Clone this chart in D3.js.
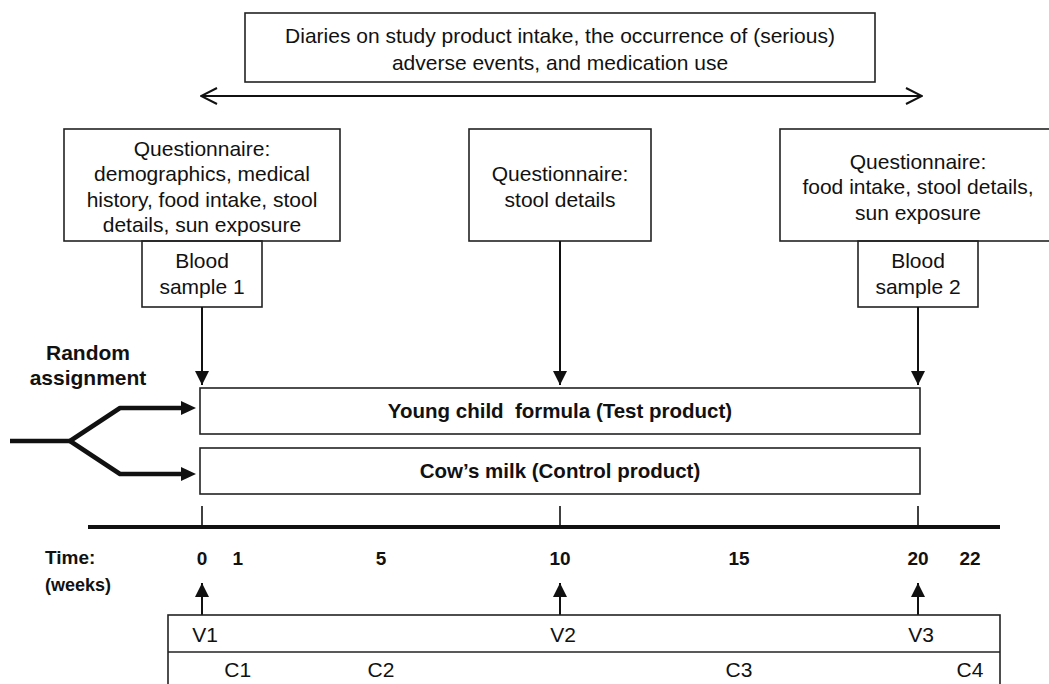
<!DOCTYPE html>
<html>
<head>
<meta charset="utf-8">
<script src="https://cdn.jsdelivr.net/npm/d3@7"></script>
<style>
  body { margin: 0; background: #fff; }
  svg { display: block; font-family: "Liberation Sans", Arial, sans-serif; }
  .box { fill: none; stroke: #222; stroke-width: 1.6; }
  .lbl { font-size: 21px; fill: #111; white-space: pre; }
  .bold { font-weight: bold; }
</style>
</head>
<body>
<svg width="1049" height="684"></svg>
<script>
// ---- data ----
const tickWeeks = [0, 1, 5, 10, 15, 20, 22];
const markedWeeks = [0, 10, 20];

const diaryText = ["Diaries on study product intake, the occurrence of (serious)",
                   "adverse events, and medication use"];
const diaryWeeks = [0, 20];

const questionnaireWeeks = [0, 10, 20];
const questionnaireText = [
    ["Questionnaire:", "demographics, medical", "history, food intake, stool", "details, sun exposure"],
    ["Questionnaire:", "stool details"],
    ["Questionnaire:", "food intake, stool details,", "sun exposure"]
];

const bloodWeeks = [0, 20];
const bloodText = [["Blood", "sample 1"], ["Blood", "sample 2"]];

const arms = ["Young child  formula (Test product)", "Cow\u2019s milk (Control product)"];

const visitWeeks = [0, 10, 20];
const visitLabels = ["V1", "V2", "V3"];

const contactWeeks = [1, 5, 15, 22];
const contactLabels = ["C1", "C2", "C3", "C4"];

// ---- layout ----
const svg = d3.select("svg");

const x = d3.scaleLinear()
    .domain([0, 20, 22])
    .range([202, 918, 970]);

const axisY = 527;
const qTop = 129, qBottom = 241;
const qHalf = [138, 91, 138];
const bloodHalf = 60, bloodBottom = 307;
const armTop = [388, 448], armH = 46;
const lineH = 25.5;

const defs = svg.append("defs");

defs.append("marker")
    .attr("id", "tri")
    .attr("markerUnits", "userSpaceOnUse")
    .attr("viewBox", "0 0 14 14")
    .attr("refX", 14).attr("refY", 7)
    .attr("markerWidth", 14).attr("markerHeight", 14)
    .attr("orient", "auto")
    .append("path")
    .attr("d", "M0,0 L14,7 L0,14 Z")
    .attr("fill", "#111");

defs.append("marker")
    .attr("id", "chev")
    .attr("markerUnits", "userSpaceOnUse")
    .attr("viewBox", "-1 -1 18 20")
    .attr("refX", 16).attr("refY", 9)
    .attr("markerWidth", 18).attr("markerHeight", 20)
    .attr("orient", "auto-start-reverse")
    .append("path")
    .attr("d", "M0,1 L16,9 L0,17")
    .attr("fill", "none")
    .attr("stroke", "#111")
    .attr("stroke-width", 2);

function multiline(g, lines, cx, cy, cls) {
    const n = lines.length;
    g.selectAll(null)
        .data(lines)
        .join("text")
        .attr("class", cls)
        .attr("x", cx)
        .attr("y", (d, i) => cy + (i - (n - 1) / 2) * lineH + 8)
        .attr("text-anchor", "middle")
        .text(d => d);
}

// diaries box + double arrow
const dCx = (x(diaryWeeks[0]) + x(diaryWeeks[1])) / 2;
svg.append("rect").attr("class", "box")
    .attr("x", dCx - 315).attr("y", 13)
    .attr("width", 630).attr("height", 69);
svg.append("text").attr("class", "lbl")
    .attr("x", dCx).attr("y", 43).attr("text-anchor", "middle").text(diaryText[0]);
svg.append("text").attr("class", "lbl")
    .attr("x", dCx).attr("y", 70).attr("text-anchor", "middle").text(diaryText[1]);
svg.append("line")
    .attr("x1", x(diaryWeeks[0]) - 1).attr("x2", x(diaryWeeks[1]) + 4)
    .attr("y1", 96).attr("y2", 96)
    .attr("stroke", "#111").attr("stroke-width", 2)
    .attr("marker-start", "url(#chev)")
    .attr("marker-end", "url(#chev)");

// questionnaire boxes
questionnaireWeeks.forEach(function(w, i) {
    const cx = x(w);
    svg.append("rect").attr("class", "box")
        .attr("x", cx - qHalf[i]).attr("y", qTop)
        .attr("width", qHalf[i] * 2).attr("height", qBottom - qTop);
    multiline(svg.append("g"), questionnaireText[i], cx, (qTop + qBottom) / 2 + 1, "lbl");
});

// blood sample boxes
bloodWeeks.forEach(function(w, i) {
    const cx = x(w);
    svg.append("rect").attr("class", "box")
        .attr("x", cx - bloodHalf).attr("y", qBottom)
        .attr("width", bloodHalf * 2).attr("height", bloodBottom - qBottom);
    multiline(svg.append("g"), bloodText[i], cx, (qBottom + bloodBottom) / 2 - 1, "lbl");
});

// down arrows
svg.selectAll(".down")
    .data(markedWeeks)
    .join("line")
    .attr("class", "down")
    .attr("x1", d => x(d)).attr("x2", d => x(d))
    .attr("y1", d => bloodWeeks.includes(d) ? bloodBottom : qBottom)
    .attr("y2", armTop[0] - 3)
    .attr("stroke", "#111").attr("stroke-width", 2)
    .attr("marker-end", "url(#tri)");

// product boxes
arms.forEach(function(a, i) {
    svg.append("rect").attr("class", "box")
        .attr("x", x(0) - 2).attr("y", armTop[i])
        .attr("width", x(20) - x(0) + 4).attr("height", armH);
    svg.append("text").attr("class", "lbl bold")
        .style("font-size", "20.5px")
        .attr("x", x(10)).attr("y", armTop[i] + armH / 2 + 7)
        .attr("text-anchor", "middle").text(a);
});

// random assignment
svg.append("text").attr("class", "lbl bold")
    .attr("x", 88).attr("y", 360).attr("text-anchor", "middle").text("Random");
svg.append("text").attr("class", "lbl bold")
    .attr("x", 88).attr("y", 385).attr("text-anchor", "middle").text("assignment");

const split = [70, 441];
svg.append("line")
    .attr("x1", 10).attr("x2", split[0]).attr("y1", split[1]).attr("y2", split[1])
    .attr("stroke", "#111").attr("stroke-width", 4.5);
armTop.forEach(function(t) {
    const yy = t + armH / 2 - 3 * (t === armTop[0] ? 1 : -1);
    svg.append("path")
        .attr("d", d3.line()([split, [120, yy], [x(0) - 20, yy]]))
        .attr("fill", "none").attr("stroke", "#111").attr("stroke-width", 4.5)
        .attr("stroke-linejoin", "round");
    svg.append("path")
        .attr("d", `M${x(0) - 21},${yy - 7} L${x(0) - 6},${yy} L${x(0) - 21},${yy + 7} Z`)
        .attr("fill", "#111");
});

// time axis
svg.append("line")
    .attr("x1", 88).attr("x2", 1000).attr("y1", axisY).attr("y2", axisY)
    .attr("stroke", "#111").attr("stroke-width", 4);
svg.selectAll(".tick")
    .data(markedWeeks)
    .join("line")
    .attr("class", "tick")
    .attr("x1", d => x(d)).attr("x2", d => x(d))
    .attr("y1", 506).attr("y2", axisY)
    .attr("stroke", "#111").attr("stroke-width", 1.6);

svg.selectAll(".wk")
    .data(tickWeeks)
    .join("text")
    .attr("class", "wk lbl bold")
    .style("font-size", "19px")
    .attr("x", d => x(d)).attr("y", 565)
    .attr("text-anchor", "middle")
    .text(d => d);

svg.append("text").attr("class", "lbl bold").style("font-size", "19px")
    .attr("x", 45).attr("y", 564).text("Time:");
svg.append("text").attr("class", "lbl bold").style("font-size", "18px")
    .attr("x", 45).attr("y", 591).text("(weeks)");

// up arrows
const vTop = 615, vMid = 652;
svg.selectAll(".up")
    .data(visitWeeks)
    .join("line")
    .attr("class", "up")
    .attr("x1", d => x(d)).attr("x2", d => x(d))
    .attr("y1", vTop).attr("y2", 583)
    .attr("stroke", "#111").attr("stroke-width", 2)
    .attr("marker-end", "url(#tri)");

// visit / contact table
svg.append("rect").attr("class", "box")
    .attr("x", 168).attr("y", vTop).attr("width", 1000 - 168).attr("height", 120);
svg.append("line").attr("class", "box")
    .attr("x1", 168).attr("x2", 1000).attr("y1", vMid).attr("y2", vMid);

svg.selectAll(".v")
    .data(visitWeeks)
    .join("text")
    .attr("class", "v lbl")
    .attr("x", d => x(d) + 3).attr("y", 642)
    .attr("text-anchor", "middle")
    .text((d, i) => visitLabels[i]);

svg.selectAll(".c")
    .data(contactWeeks)
    .join("text")
    .attr("class", "c lbl")
    .attr("x", d => x(d)).attr("y", 677)
    .attr("text-anchor", "middle")
    .text((d, i) => contactLabels[i]);
</script>
</body>
</html>
